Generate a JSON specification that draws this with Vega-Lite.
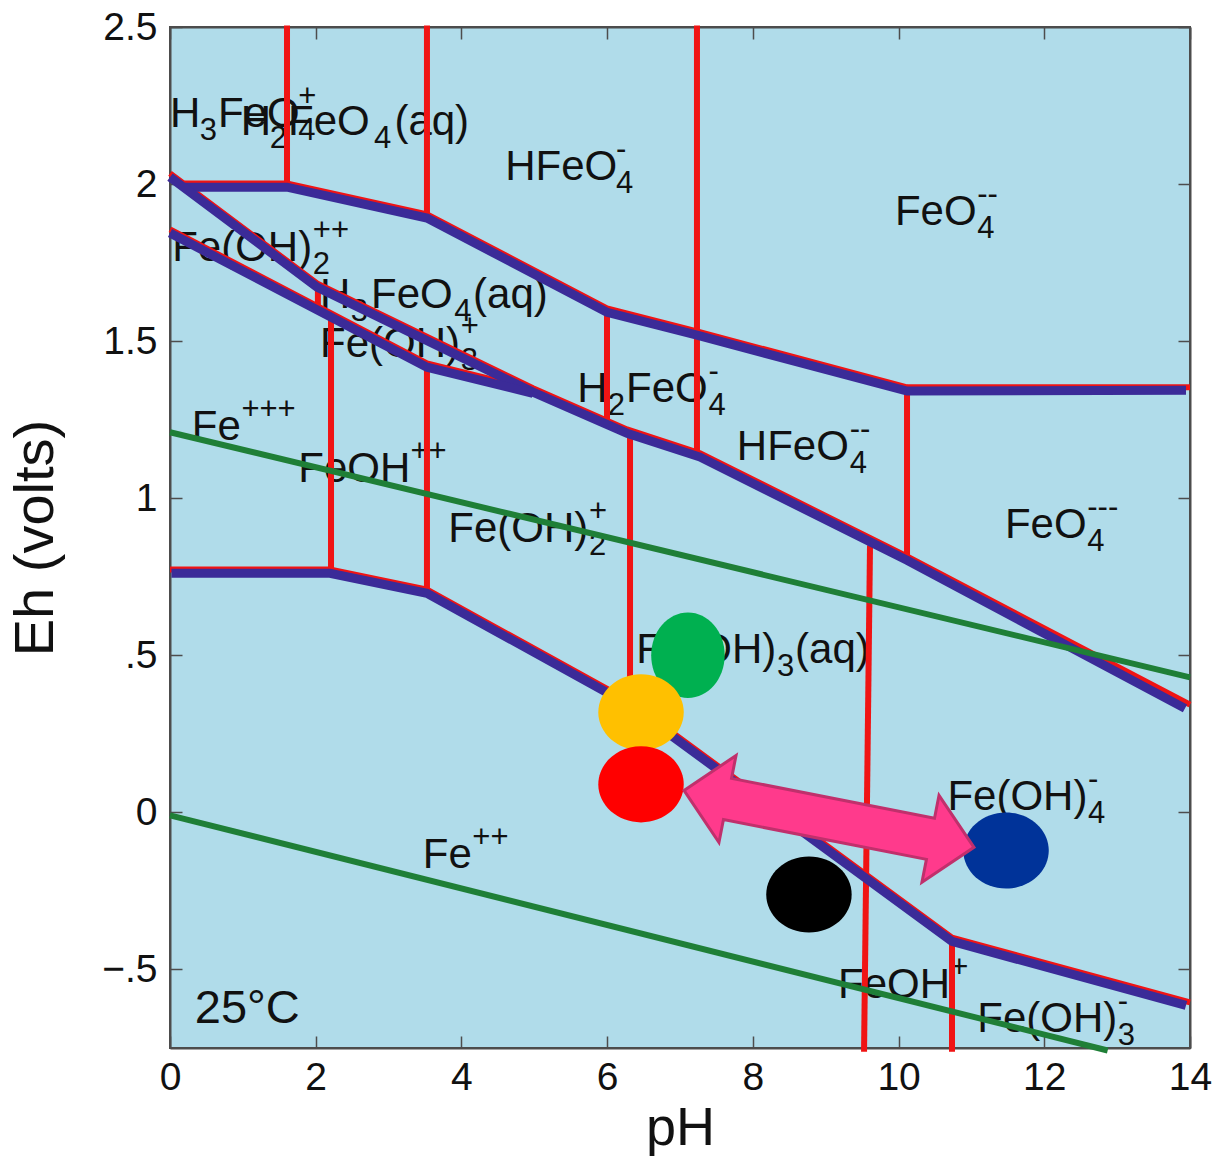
{
  "$schema": "https://vega.github.io/schema/vega-lite/v6.json",
  "autosize": {"type": "none"},
  "padding": {"left": 170, "top": 27, "right": 24, "bottom": 113},
  "width": 1020,
  "height": 1021,
  "background": "white",
  "config": {
    "view": {"fill": "#b0dcea", "stroke": "#4d4d4d", "strokeWidth": 2},
    "font": "Liberation Sans"
  },
  "datasets": {
    "labels": [
      {"t": "H", "r": "m", "pH": 0.0, "Eh": 2.182},
      {"t": "3", "r": "b", "pH": 0.41, "Eh": 2.182},
      {"t": "FeO", "r": "m", "pH": 0.66, "Eh": 2.182},
      {"t": "4", "r": "b", "pH": 1.76, "Eh": 2.182},
      {"t": "+", "r": "p", "pH": 1.76, "Eh": 2.182},
      {"t": "H", "r": "m", "pH": 0.97, "Eh": 2.156},
      {"t": "2", "r": "b", "pH": 1.37, "Eh": 2.156},
      {"t": "FeO", "r": "m", "pH": 1.62, "Eh": 2.156},
      {"t": "4", "r": "b", "pH": 2.8, "Eh": 2.156},
      {"t": "(aq)", "r": "m", "pH": 3.08, "Eh": 2.156},
      {"t": "HFeO", "r": "m", "pH": 4.6, "Eh": 2.013},
      {"t": "4", "r": "b", "pH": 6.12, "Eh": 2.013},
      {"t": "-", "r": "p", "pH": 6.12, "Eh": 2.013},
      {"t": "FeO", "r": "m", "pH": 9.95, "Eh": 1.869},
      {"t": "4", "r": "b", "pH": 11.08, "Eh": 1.869},
      {"t": "--", "r": "p", "pH": 11.08, "Eh": 1.869},
      {"t": "Fe(OH)", "r": "m", "pH": 0.03, "Eh": 1.755},
      {"t": "2", "r": "b", "pH": 1.96, "Eh": 1.755},
      {"t": "++", "r": "p", "pH": 1.96, "Eh": 1.755},
      {"t": "H", "r": "m", "pH": 2.06, "Eh": 1.605},
      {"t": "3", "r": "b", "pH": 2.48, "Eh": 1.605},
      {"t": "FeO", "r": "m", "pH": 2.76, "Eh": 1.605},
      {"t": "4", "r": "b", "pH": 3.9, "Eh": 1.605},
      {"t": "(aq)", "r": "m", "pH": 4.16, "Eh": 1.605},
      {"t": "Fe(OH)", "r": "m", "pH": 2.06, "Eh": 1.449},
      {"t": "3", "r": "b", "pH": 3.99, "Eh": 1.449},
      {"t": "+", "r": "p", "pH": 3.99, "Eh": 1.449},
      {"t": "Fe", "r": "m", "pH": 0.3, "Eh": 1.185},
      {"t": "+++", "r": "p", "pH": 0.98, "Eh": 1.185},
      {"t": "FeOH", "r": "m", "pH": 1.76, "Eh": 1.051},
      {"t": "++", "r": "p", "pH": 3.3, "Eh": 1.051},
      {"t": "Fe(OH)", "r": "m", "pH": 3.82, "Eh": 0.86},
      {"t": "2", "r": "b", "pH": 5.75, "Eh": 0.86},
      {"t": "+", "r": "p", "pH": 5.75, "Eh": 0.86},
      {"t": "H", "r": "m", "pH": 5.59, "Eh": 1.306},
      {"t": "2", "r": "b", "pH": 6.01, "Eh": 1.306},
      {"t": "FeO", "r": "m", "pH": 6.26, "Eh": 1.306},
      {"t": "4", "r": "b", "pH": 7.39, "Eh": 1.306},
      {"t": "-", "r": "p", "pH": 7.39, "Eh": 1.306},
      {"t": "HFeO", "r": "m", "pH": 7.78, "Eh": 1.121},
      {"t": "4", "r": "b", "pH": 9.33, "Eh": 1.121},
      {"t": "--", "r": "p", "pH": 9.33, "Eh": 1.121},
      {"t": "FeO", "r": "m", "pH": 11.46, "Eh": 0.873},
      {"t": "4", "r": "b", "pH": 12.59, "Eh": 0.873},
      {"t": "---", "r": "p", "pH": 12.59, "Eh": 0.873},
      {"t": "Fe(OH)", "r": "m", "pH": 6.4, "Eh": 0.4745},
      {"t": "3", "r": "b", "pH": 8.33, "Eh": 0.4745},
      {"t": "(aq)", "r": "m", "pH": 8.58, "Eh": 0.4745},
      {"t": "Fe(OH)", "r": "m", "pH": 10.67, "Eh": 0.006},
      {"t": "4", "r": "b", "pH": 12.6, "Eh": 0.006},
      {"t": "-", "r": "p", "pH": 12.6, "Eh": 0.006},
      {"t": "Fe", "r": "m", "pH": 3.47, "Eh": -0.178},
      {"t": "++", "r": "p", "pH": 4.15, "Eh": -0.178},
      {"t": "FeOH", "r": "m", "pH": 9.17, "Eh": -0.592},
      {"t": "+", "r": "p", "pH": 10.71, "Eh": -0.592},
      {"t": "Fe(OH)", "r": "m", "pH": 11.08, "Eh": -0.7006},
      {"t": "3", "r": "b", "pH": 13.01, "Eh": -0.7006},
      {"t": "-", "r": "p", "pH": 13.01, "Eh": -0.7006},
      {"t": "25°C", "r": "g", "pH": 0.34, "Eh": -0.669}
    ],
    "lines": [
      {"id": "r1", "kind": "red", "o": 0, "pH": 0.2, "Eh": 2.002},
      {"id": "r1", "kind": "red", "o": 1, "pH": 1.606, "Eh": 2.002},
      {"id": "r1", "kind": "red", "o": 2, "pH": 3.527, "Eh": 1.904},
      {"id": "r1", "kind": "red", "o": 3, "pH": 5.998, "Eh": 1.604},
      {"id": "r1", "kind": "red", "o": 4, "pH": 7.233, "Eh": 1.531},
      {"id": "r1", "kind": "red", "o": 5, "pH": 10.116, "Eh": 1.353},
      {"id": "r1", "kind": "red", "o": 6, "pH": 14.0, "Eh": 1.353},
      {"id": "r2", "kind": "red", "o": 0, "pH": 0.0, "Eh": 2.034},
      {"id": "r2", "kind": "red", "o": 1, "pH": 2.018, "Eh": 1.684},
      {"id": "r2", "kind": "red", "o": 2, "pH": 4.982, "Eh": 1.35},
      {"id": "r2", "kind": "red", "o": 3, "pH": 6.273, "Eh": 1.219},
      {"id": "r2", "kind": "red", "o": 4, "pH": 7.275, "Eh": 1.143},
      {"id": "r2", "kind": "red", "o": 5, "pH": 10.116, "Eh": 0.8145},
      {"id": "r2", "kind": "red", "o": 6, "pH": 14.0, "Eh": 0.343},
      {"id": "r3", "kind": "red", "o": 0, "pH": 0.0, "Eh": 1.856},
      {"id": "r3", "kind": "red", "o": 1, "pH": 3.527, "Eh": 1.429},
      {"id": "r3", "kind": "red", "o": 2, "pH": 4.982, "Eh": 1.346},
      {"id": "r4", "kind": "red", "o": 0, "pH": 0.0, "Eh": 0.773},
      {"id": "r4", "kind": "red", "o": 1, "pH": 2.196, "Eh": 0.773},
      {"id": "r4", "kind": "red", "o": 2, "pH": 3.527, "Eh": 0.7095},
      {"id": "r4", "kind": "red", "o": 3, "pH": 6.314, "Eh": 0.3528},
      {"id": "r4", "kind": "red", "o": 4, "pH": 10.733, "Eh": -0.3988},
      {"id": "r4", "kind": "red", "o": 5, "pH": 14.0, "Eh": -0.605},
      {"id": "v1", "kind": "red", "o": 0, "pH": 1.606, "Eh": 2.505},
      {"id": "v1", "kind": "red", "o": 1, "pH": 1.606, "Eh": 1.99},
      {"id": "v2", "kind": "red", "o": 0, "pH": 3.527, "Eh": 2.505},
      {"id": "v2", "kind": "red", "o": 1, "pH": 3.527, "Eh": 1.892},
      {"id": "v3", "kind": "red", "o": 0, "pH": 7.233, "Eh": 2.505},
      {"id": "v3", "kind": "red", "o": 1, "pH": 7.233, "Eh": 1.131},
      {"id": "v4", "kind": "red", "o": 0, "pH": 2.03, "Eh": 1.672},
      {"id": "v4", "kind": "red", "o": 1, "pH": 2.03, "Eh": 1.595},
      {"id": "v5", "kind": "red", "o": 0, "pH": 2.21, "Eh": 1.573},
      {"id": "v5", "kind": "red", "o": 1, "pH": 2.21, "Eh": 0.761},
      {"id": "v6", "kind": "red", "o": 0, "pH": 3.527, "Eh": 1.417},
      {"id": "v6", "kind": "red", "o": 1, "pH": 3.527, "Eh": 0.6975},
      {"id": "v7", "kind": "red", "o": 0, "pH": 5.998, "Eh": 1.592},
      {"id": "v7", "kind": "red", "o": 1, "pH": 5.998, "Eh": 1.239},
      {"id": "v8", "kind": "red", "o": 0, "pH": 6.314, "Eh": 1.207},
      {"id": "v8", "kind": "red", "o": 1, "pH": 6.314, "Eh": 0.341},
      {"id": "v9", "kind": "red", "o": 0, "pH": 10.116, "Eh": 1.341},
      {"id": "v9", "kind": "red", "o": 1, "pH": 10.116, "Eh": 0.8025},
      {"id": "v10", "kind": "red", "o": 0, "pH": 9.608, "Eh": 0.85},
      {"id": "v10", "kind": "red", "o": 1, "pH": 9.526, "Eh": -0.762},
      {"id": "v11", "kind": "red", "o": 0, "pH": 10.733, "Eh": -0.4108},
      {"id": "v11", "kind": "red", "o": 1, "pH": 10.733, "Eh": -0.762},
      {"id": "b1", "kind": "blue", "o": 0, "pH": 0.206, "Eh": 1.99},
      {"id": "b1", "kind": "blue", "o": 1, "pH": 1.606, "Eh": 1.99},
      {"id": "b1", "kind": "blue", "o": 2, "pH": 3.527, "Eh": 1.892},
      {"id": "b1", "kind": "blue", "o": 3, "pH": 5.998, "Eh": 1.592},
      {"id": "b1", "kind": "blue", "o": 4, "pH": 7.233, "Eh": 1.519},
      {"id": "b1", "kind": "blue", "o": 5, "pH": 10.116, "Eh": 1.341},
      {"id": "b1", "kind": "blue", "o": 6, "pH": 13.945, "Eh": 1.344},
      {"id": "b2", "kind": "blue", "o": 0, "pH": 0.0, "Eh": 2.022},
      {"id": "b2", "kind": "blue", "o": 1, "pH": 2.018, "Eh": 1.672},
      {"id": "b2", "kind": "blue", "o": 2, "pH": 4.982, "Eh": 1.338},
      {"id": "b2", "kind": "blue", "o": 3, "pH": 6.273, "Eh": 1.207},
      {"id": "b2", "kind": "blue", "o": 4, "pH": 7.275, "Eh": 1.131},
      {"id": "b2", "kind": "blue", "o": 5, "pH": 10.116, "Eh": 0.8025},
      {"id": "b2", "kind": "blue", "o": 6, "pH": 13.931, "Eh": 0.331},
      {"id": "b3", "kind": "blue", "o": 0, "pH": 0.0, "Eh": 1.844},
      {"id": "b3", "kind": "blue", "o": 1, "pH": 3.527, "Eh": 1.417},
      {"id": "b3", "kind": "blue", "o": 2, "pH": 4.982, "Eh": 1.334},
      {"id": "b4", "kind": "blue", "o": 0, "pH": 0.02, "Eh": 0.761},
      {"id": "b4", "kind": "blue", "o": 1, "pH": 2.196, "Eh": 0.761},
      {"id": "b4", "kind": "blue", "o": 2, "pH": 3.527, "Eh": 0.6975},
      {"id": "b4", "kind": "blue", "o": 3, "pH": 6.314, "Eh": 0.3408},
      {"id": "b4", "kind": "blue", "o": 4, "pH": 10.733, "Eh": -0.4108},
      {"id": "b4", "kind": "blue", "o": 5, "pH": 13.945, "Eh": -0.6146},
      {"id": "g1", "kind": "green", "o": 0, "pH": 0.0, "Eh": 1.21},
      {"id": "g1", "kind": "green", "o": 1, "pH": 14.0, "Eh": 0.43},
      {"id": "g2", "kind": "green", "o": 0, "pH": 0.0, "Eh": -0.0096},
      {"id": "g2", "kind": "green", "o": 1, "pH": 12.87, "Eh": -0.758}
    ],
    "dots": [
      {"dot": "green", "pH": 7.109, "Eh": 0.5},
      {"dot": "yellow", "pH": 6.465, "Eh": 0.3185},
      {"dot": "red", "pH": 6.465, "Eh": 0.0892},
      {"dot": "black", "pH": 8.77, "Eh": -0.2611},
      {"dot": "blue", "pH": 11.475, "Eh": -0.121}
    ],
    "arrow": [
      {"name": "double arrow", "pH": 9.045, "Eh": -0.0207}
    ]
  },
  "encoding": {
    "x": {"field": "pH", "type": "quantitative", "scale": {"domain": [0, 14], "nice": false, "zero": false}, "axis": null},
    "y": {"field": "Eh", "type": "quantitative", "scale": {"domain": [-0.75, 2.5], "nice": false, "zero": false}, "axis": null}
  },
  "layer": [
    {
      "data": {"name": "labels"},
      "transform": [{"filter": "datum.r == 'm'"}],
      "mark": {"type": "text", "align": "left", "baseline": "alphabetic", "fontSize": 42, "font": "Liberation Sans", "color": "#111111"},
      "encoding": {"text": {"field": "t"}}
    },
    {
      "data": {"name": "labels"},
      "transform": [{"filter": "datum.r == 'b'"}],
      "mark": {"type": "text", "align": "left", "baseline": "alphabetic", "fontSize": 31, "dy": 13, "font": "Liberation Sans", "color": "#111111"},
      "encoding": {"text": {"field": "t"}}
    },
    {
      "data": {"name": "labels"},
      "transform": [{"filter": "datum.r == 'p'"}],
      "mark": {"type": "text", "align": "left", "baseline": "alphabetic", "fontSize": 31, "dy": -21, "font": "Liberation Sans", "color": "#111111"},
      "encoding": {"text": {"field": "t"}}
    },
    {
      "data": {"name": "labels"},
      "transform": [{"filter": "datum.r == 'g'"}],
      "mark": {"type": "text", "align": "left", "baseline": "alphabetic", "fontSize": 47, "font": "Liberation Sans", "color": "#111111"},
      "encoding": {"text": {"field": "t"}}
    },
    {
      "data": {"name": "lines"},
      "transform": [{"filter": "datum.kind == 'red'"}],
      "mark": {"type": "line", "color": "#f01414", "strokeWidth": 6, "clip": false},
      "encoding": {
        "x": {"field": "pH", "type": "quantitative", "scale": {"domain": [0, 14], "nice": false, "zero": false},
          "axis": {"orient": "bottom", "title": "pH", "values": [0, 2, 4, 6, 8, 10, 12, 14], "format": "d",
            "labelFont": "Liberation Sans", "labelFontSize": 39, "labelColor": "#111111", "labelPadding": 22,
            "labelFlush": false, "labelOverlap": false, "tickSize": -12, "tickWidth": 1.5, "tickColor": "#4d4d4d",
            "domainColor": "#4d4d4d", "domainWidth": 2, "grid": false,
            "titleFont": "Liberation Sans", "titleFontSize": 54, "titleFontWeight": "normal", "titleColor": "#111111", "titlePadding": 4}},
        "y": {"field": "Eh", "type": "quantitative", "scale": {"domain": [-0.75, 2.5], "nice": false, "zero": false},
          "axis": {"orient": "left", "title": "Eh (volts)", "values": [-0.5, 0, 0.5, 1, 1.5, 2, 2.5],
            "labelExpr": "datum.value == 2.5 ? '2.5' : datum.value == 2 ? '2' : datum.value == 1.5 ? '1.5' : datum.value == 1 ? '1' : datum.value == 0.5 ? '.5' : datum.value == 0 ? '0' : '−.5'",
            "labelFont": "Liberation Sans", "labelFontSize": 39, "labelColor": "#111111", "labelPadding": 25,
            "labelFlush": false, "labelOverlap": false, "tickSize": -12, "tickWidth": 1.5, "tickColor": "#4d4d4d",
            "domainColor": "#4d4d4d", "domainWidth": 2, "grid": false,
            "titleFont": "Liberation Sans", "titleFontSize": 56, "titleFontWeight": "normal", "titleColor": "#111111", "titlePadding": 37}},
        "detail": {"field": "id"},
        "order": {"field": "o", "type": "quantitative"}
      }
    },
    {
      "data": {"name": "lines"},
      "transform": [{"filter": "datum.kind == 'blue'"}],
      "mark": {"type": "line", "color": "#3b2b98", "strokeWidth": 9, "clip": false},
      "encoding": {
        "x": {"field": "pH", "type": "quantitative", "scale": {"domain": [0, 14], "nice": false, "zero": false},
          "axis": {"orient": "top", "title": null, "labels": false, "values": [0, 2, 4, 6, 8, 10, 12, 14],
            "tickSize": -12, "tickWidth": 1.5, "tickColor": "#4d4d4d", "domainColor": "#4d4d4d", "domainWidth": 2, "grid": false}},
        "y": {"field": "Eh", "type": "quantitative", "scale": {"domain": [-0.75, 2.5], "nice": false, "zero": false},
          "axis": {"orient": "right", "title": null, "labels": false, "values": [-0.5, 0, 0.5, 1, 1.5, 2, 2.5],
            "tickSize": -12, "tickWidth": 1.5, "tickColor": "#4d4d4d", "domainColor": "#4d4d4d", "domainWidth": 2, "grid": false}},
        "detail": {"field": "id"},
        "order": {"field": "o", "type": "quantitative"}
      }
    },
    {
      "data": {"name": "lines"},
      "transform": [{"filter": "datum.kind == 'green'"}],
      "mark": {"type": "line", "color": "#1f7f37", "strokeWidth": 6, "clip": false},
      "encoding": {
        "detail": {"field": "id"},
        "order": {"field": "o", "type": "quantitative"}
      }
    },
    {
      "data": {"name": "dots"},
      "mark": {"type": "point", "filled": true, "opacity": 1, "size": 7300, "strokeWidth": 0},
      "encoding": {
        "color": {"field": "dot", "type": "nominal", "legend": null,
          "scale": {"domain": ["green", "yellow", "red", "black", "blue"], "range": ["#00b050", "#ffc000", "#ff0000", "#000000", "#003399"]}},
        "shape": {"field": "dot", "type": "nominal", "legend": null,
          "scale": {"domain": ["green", "yellow", "red", "black", "blue"],
            "range": ["M 0 -1 A 0.86 1 0 1 1 0 1 A 0.86 1 0 1 1 0 -1 Z", "M -1 0 A 1 0.89 0 1 1 1 0 A 1 0.89 0 1 1 -1 0 Z", "M -1 0 A 1 0.89 0 1 1 1 0 A 1 0.89 0 1 1 -1 0 Z", "M -1 0 A 1 0.89 0 1 1 1 0 A 1 0.89 0 1 1 -1 0 Z", "M -1 0 A 1 0.89 0 1 1 1 0 A 1 0.89 0 1 1 -1 0 Z"]}}
      }
    },
    {
      "data": {"name": "arrow"},
      "mark": {"type": "point", "filled": true, "opacity": 1, "size": 87320, "angle": 11.1,
        "shape": "M -1 0 L -0.7 -0.3 L -0.7 -0.142 L 0.7 -0.142 L 0.7 -0.3 L 1 0 L 0.7 0.3 L 0.7 0.142 L -0.7 0.142 L -0.7 0.3 Z",
        "fill": "#ff3a8c", "stroke": "#c0306c", "strokeWidth": 3, "strokeJoin": "miter"}
    }
  ],
  "resolve": {"axis": {"x": "independent", "y": "independent"}}
}
